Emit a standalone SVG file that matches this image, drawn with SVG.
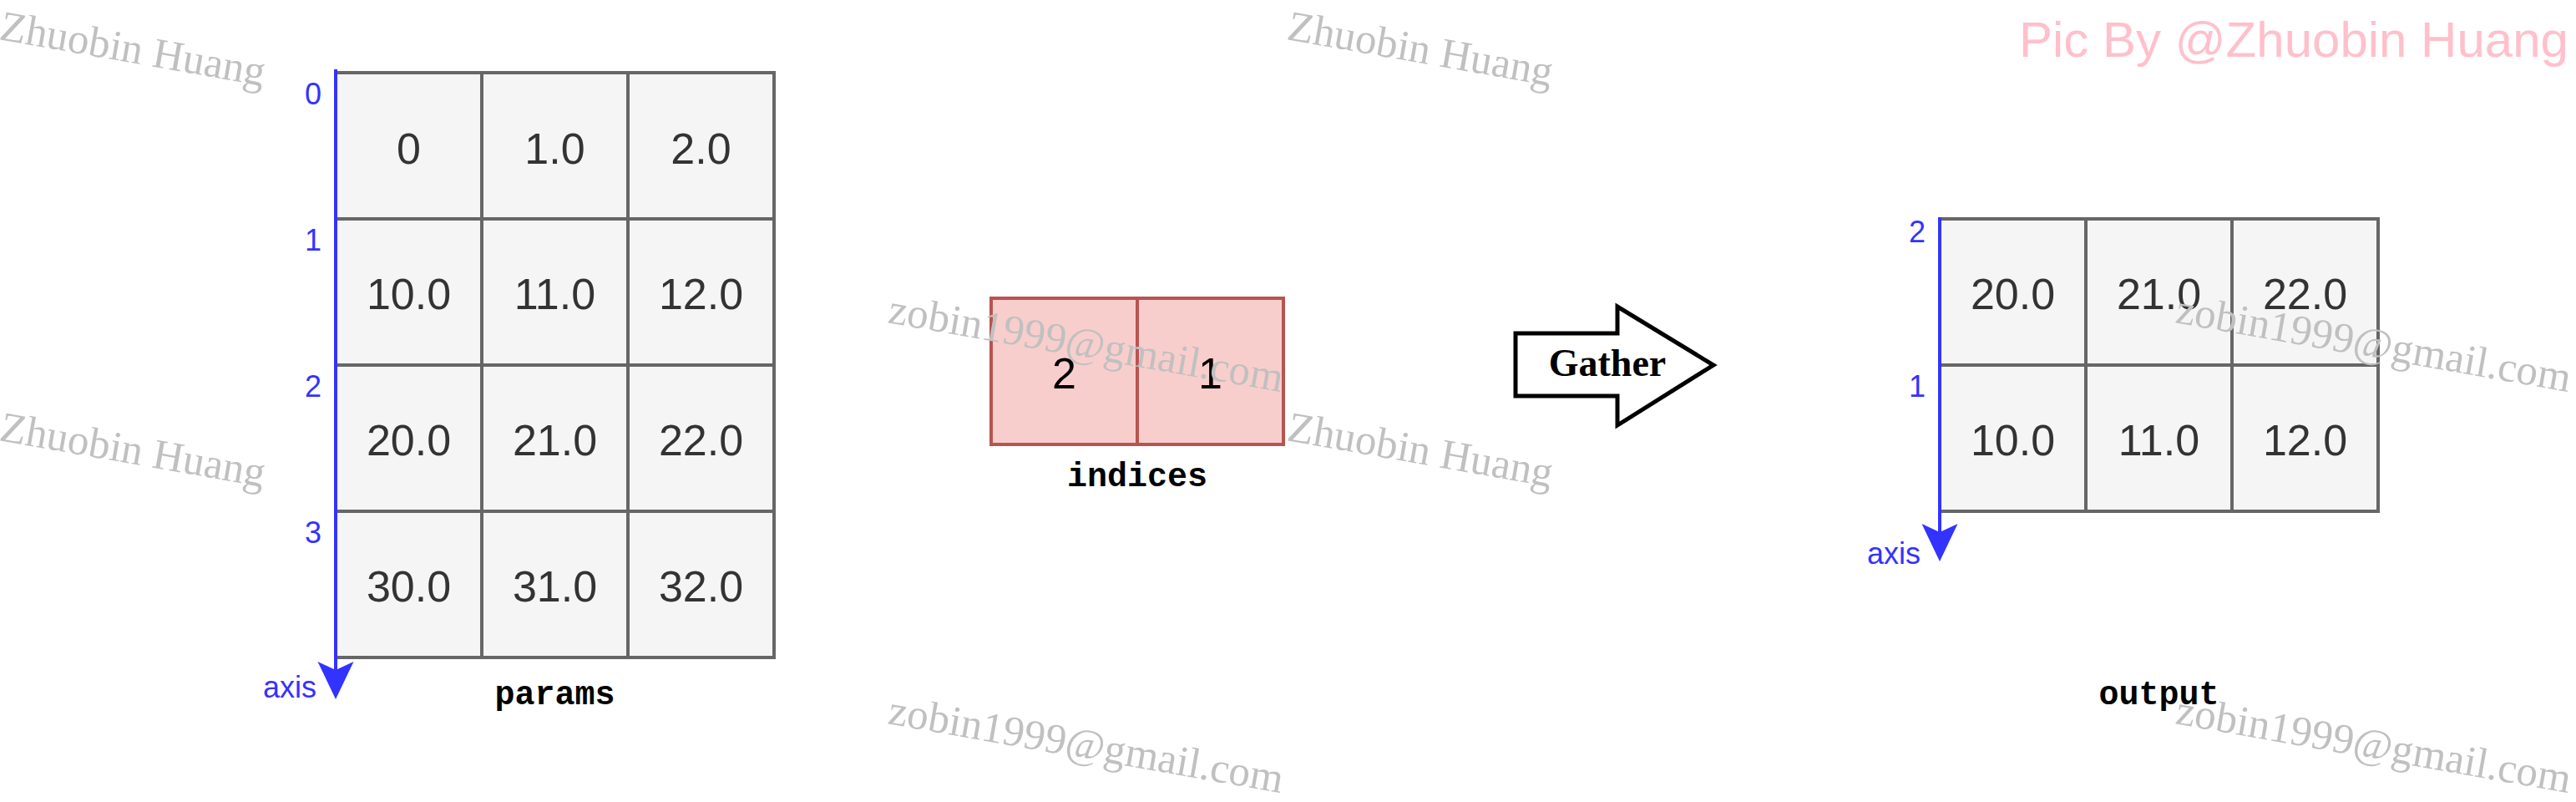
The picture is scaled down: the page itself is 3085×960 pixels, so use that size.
<svg xmlns="http://www.w3.org/2000/svg" width="3085" height="960" viewBox="0 0 3085 960">
<style>
.cell{fill:#f5f5f5;stroke:#666666;stroke-width:4}
.idx{fill:#f8cecc;stroke:#b85450;stroke-width:4}
.val{font-family:"Liberation Sans",Arial,sans-serif;font-size:52px;fill:#333333;text-anchor:middle}
.ival{font-family:"Liberation Sans",Arial,sans-serif;font-size:52px;fill:#000000;text-anchor:middle}
.ax{stroke:#3333ff;stroke-width:4;fill:none}
.axl{font-family:"Liberation Sans",Arial,sans-serif;font-size:36px;fill:#3333ff}
.lbl{font-family:"Liberation Mono","Courier New",monospace;font-weight:bold;font-size:40px;fill:#000000;text-anchor:middle}
.wm{font-family:"Liberation Serif","Times New Roman",serif;font-size:51px;fill:#c0c0c0}
.pic{font-family:"Liberation Sans",Arial,sans-serif;font-size:60px;fill:#ffc0cb}
</style>
<defs>
<marker id="ah" markerUnits="userSpaceOnUse" viewBox="0 0 46 44" markerWidth="46" markerHeight="44" refX="10" refY="22" orient="auto">
<path d="M0,0.5 L45,22 L0,43.5 L10,22 Z" fill="#3333ff"/>
</marker>
</defs>

<g id="params">
<rect class="cell" x="402" y="87" width="175" height="175"/>
<rect class="cell" x="577" y="87" width="175" height="175"/>
<rect class="cell" x="752" y="87" width="175" height="175"/>
<rect class="cell" x="402" y="262" width="175" height="175"/>
<rect class="cell" x="577" y="262" width="175" height="175"/>
<rect class="cell" x="752" y="262" width="175" height="175"/>
<rect class="cell" x="402" y="437" width="175" height="175"/>
<rect class="cell" x="577" y="437" width="175" height="175"/>
<rect class="cell" x="752" y="437" width="175" height="175"/>
<rect class="cell" x="402" y="612" width="175" height="175"/>
<rect class="cell" x="577" y="612" width="175" height="175"/>
<rect class="cell" x="752" y="612" width="175" height="175"/>
<text class="val" x="489.5" y="196">0</text>
<text class="val" x="664.5" y="196">1.0</text>
<text class="val" x="839.5" y="196">2.0</text>
<text class="val" x="489.5" y="370">10.0</text>
<text class="val" x="664.5" y="370">11.0</text>
<text class="val" x="839.5" y="370">12.0</text>
<text class="val" x="489.5" y="545">20.0</text>
<text class="val" x="664.5" y="545">21.0</text>
<text class="val" x="839.5" y="545">22.0</text>
<text class="val" x="489.5" y="720">30.0</text>
<text class="val" x="664.5" y="720">31.0</text>
<text class="val" x="839.5" y="720">32.0</text>
<text class="lbl" x="664.5" y="843">params</text>
</g>

<g id="params-axis">
<text class="axl" x="375" y="125" text-anchor="middle">0</text>
<text class="axl" x="375" y="300" text-anchor="middle">1</text>
<text class="axl" x="375" y="475" text-anchor="middle">2</text>
<text class="axl" x="375" y="650" text-anchor="middle">3</text>
<text class="axl" x="379" y="835" text-anchor="end">axis</text>
</g>

<g id="indices">
<rect class="idx" x="1187" y="357" width="175" height="175"/>
<rect class="idx" x="1362" y="357" width="175" height="175"/>
<text class="ival" x="1274.5" y="465">2</text>
<text class="ival" x="1449.5" y="465">1</text>
<text class="lbl" x="1362" y="582">indices</text>
</g>

<g id="gather">
<polygon points="1815,399 1937,399 1937,367 2052,437 1937,509 1937,474 1815,474" fill="#ffffff" stroke="#000000" stroke-width="5"/>
<text x="1925" y="450" text-anchor="middle" font-family="'Liberation Serif','Times New Roman',serif" font-weight="bold" font-size="46">Gather</text>
</g>

<g id="output">
<rect class="cell" x="2323" y="262" width="175" height="175"/>
<rect class="cell" x="2498" y="262" width="175" height="175"/>
<rect class="cell" x="2673" y="262" width="175" height="175"/>
<rect class="cell" x="2323" y="437" width="175" height="175"/>
<rect class="cell" x="2498" y="437" width="175" height="175"/>
<rect class="cell" x="2673" y="437" width="175" height="175"/>
<text class="val" x="2410.5" y="370">20.0</text>
<text class="val" x="2585.5" y="370">21.0</text>
<text class="val" x="2760.5" y="370">22.0</text>
<text class="val" x="2410.5" y="545">10.0</text>
<text class="val" x="2585.5" y="545">11.0</text>
<text class="val" x="2760.5" y="545">12.0</text>
<text class="lbl" x="2585.5" y="843">output</text>
</g>

<g id="output-axis">
<text class="axl" x="2296" y="290" text-anchor="middle">2</text>
<text class="axl" x="2296" y="475" text-anchor="middle">1</text>
<text class="axl" x="2300" y="675" text-anchor="end">axis</text>
</g>

<g id="connectors">
<line class="ax" x1="402" y1="83" x2="402" y2="802" marker-end="url(#ah)"/>
<line class="ax" x1="2323" y1="260" x2="2323" y2="637" marker-end="url(#ah)"/>
</g>

<g id="watermarks">
<text class="wm" transform="translate(-2,47) rotate(10)">Zhuobin Huang</text>
<text class="wm" transform="translate(1540,47) rotate(10)">Zhuobin Huang</text>
<text class="wm" transform="translate(-2,527) rotate(10)">Zhuobin Huang</text>
<text class="wm" transform="translate(1540,527) rotate(10)">Zhuobin Huang</text>
<text class="wm" transform="translate(1062,386) rotate(10)">zobin1999@gmail.com</text>
<text class="wm" transform="translate(2604,386) rotate(10)">zobin1999@gmail.com</text>
<text class="wm" transform="translate(1062,866) rotate(10)">zobin1999@gmail.com</text>
<text class="wm" transform="translate(2604,866) rotate(10)">zobin1999@gmail.com</text>
<text class="pic" x="2418" y="68">Pic By @Zhuobin Huang</text>
</g>
</svg>
